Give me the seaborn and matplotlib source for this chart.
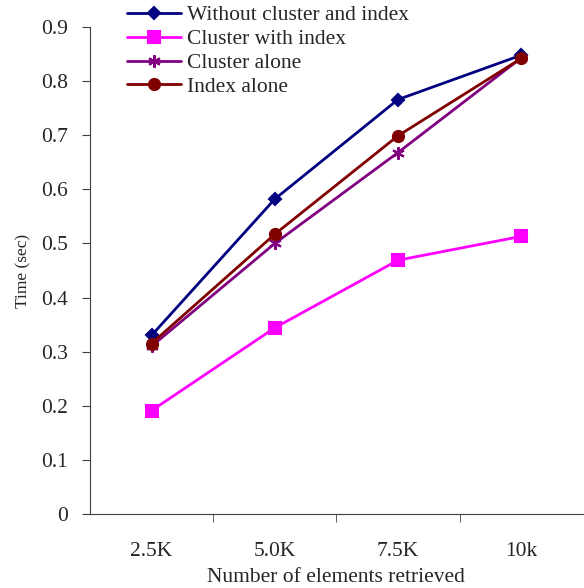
import matplotlib
matplotlib.use("Agg")
import matplotlib.pyplot as plt
import pandas as pd
import seaborn as sns

sizes = ["2.5K", "5.0K", "7.5K", "10k"]
without_cluster_index = [0.33, 0.582, 0.766, 0.848]
cluster_with_index = [0.191, 0.344, 0.469, 0.513]
cluster_alone = [0.310, 0.500, 0.668, 0.843]
index_alone = [0.315, 0.517, 0.699, 0.842]

series_names = ["Without cluster and index", "Cluster with index",
                "Cluster alone", "Index alone"]
series_values = [without_cluster_index, cluster_with_index,
                 cluster_alone, index_alone]
colors = ["#000080", "#FF00FF", "#800080", "#800000"]
markers = ["D", "s", (6, 2, 0), "o"]
marker_sizes = [6, 8.5, 9, 8]

rows = []
for name, vals in zip(series_names, series_values):
    for s, v in zip(sizes, vals):
        rows.append({"size": s, "time": v, "series": name})
df = pd.DataFrame(rows)

sns.set_style("ticks")
plt.rcParams["font.family"] = ["Liberation Serif", "DejaVu Serif"]

fig = plt.figure(figsize=(5.84, 5.88), dpi=100)
ax = fig.add_axes([0.154, 0.126, 0.844, 0.828])

for name, c, m, ms in zip(series_names, colors, markers, marker_sizes):
    sub = df[df["series"] == name]
    sns.lineplot(data=sub, x="size", y="time", ax=ax, color=c, marker=m,
                 markersize=ms, markeredgecolor=c, markeredgewidth=1.5,
                 linewidth=2, label=name, sort=False)

ax.set_xlim(-0.5, 3.5)
ax.set_ylim(0, 0.9)
ax.set_yticks([0, 0.1, 0.2, 0.3, 0.4, 0.5, 0.6, 0.7, 0.8, 0.9])
ax.set_yticklabels(["0", "0.1", "0.2", "0.3", "0.4", "0.5", "0.6", "0.7", "0.8", "0.9"])
ax.set_xticks([0, 1, 2, 3])
ax.set_xticklabels(sizes)
ax.set_xticks([0.5, 1.5, 2.5], minor=True)
ax.tick_params(axis="x", which="major", length=0, pad=20, labelsize=15.5)
ax.tick_params(axis="x", which="minor", length=6, direction="out", color="#404040")
ax.tick_params(axis="y", length=6, direction="out", labelsize=15.5, pad=10, color="#404040")
ax.spines["top"].set_visible(False)
ax.spines["right"].set_visible(False)
ax.spines["left"].set_color("#404040")
ax.spines["bottom"].set_color("#404040")

ax.set_xlabel("Number of elements retrieved", fontsize=15.5, labelpad=5)
ax.set_ylabel("Time (sec)", fontsize=12.5, labelpad=7)

ax.legend(loc="upper left", bbox_to_anchor=(0.203, 1.006), bbox_transform=fig.transFigure,
          frameon=False, fontsize=15.5, handlelength=2.5, handletextpad=0.3,
          labelspacing=0.18, borderaxespad=0)

plt.savefig("out.png", dpi=100)
